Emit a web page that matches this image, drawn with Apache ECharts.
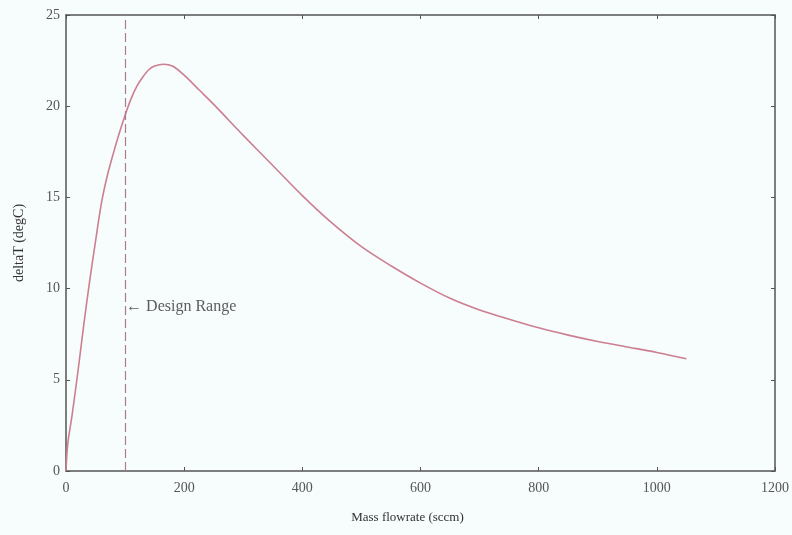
<!DOCTYPE html>
<html>
<head>
<meta charset="utf-8">
<script src="https://cdn.jsdelivr.net/npm/echarts@6/dist/echarts.min.js"></script>
<style>
  html, body { margin: 0; padding: 0; background: #f7fcfc; }
  #chart { width: 792px; height: 535px; }
</style>
</head>
<body>
<div id="chart"></div>
<script>
// Temperature rise versus mass flow rate
const flowSccm = [0, 3, 10, 20, 30, 40, 50, 60, 70, 80, 90, 100, 110, 120, 130, 140, 150, 165, 180, 200, 225, 250, 300, 350, 400, 450, 500, 550, 600, 650, 700, 750, 800, 850, 900, 950, 1000, 1050];
const deltaT   = [0, 1.5, 3.0, 5.4, 8.0, 10.4, 12.6, 14.7, 16.2, 17.4, 18.5, 19.5, 20.4, 21.1, 21.6, 22.0, 22.2, 22.3, 22.2, 21.7, 20.9, 20.1, 18.4, 16.75, 15.1, 13.6, 12.3, 11.25, 10.3, 9.47, 8.83, 8.32, 7.85, 7.45, 7.1, 6.8, 6.5, 6.15];
const designFlow = 100;
const designLabel = '\u2190 Design Range';
const designLabelY = 9;
const xTicks = { min: 0, max: 1200, interval: 200 };
const yTicks = { min: 0, max: 25, interval: 5 };

const serif = 'Liberation Serif';
const axisColor = '#555';

function axisBase(extra) {
  return Object.assign({
    type: 'value',
    axisLine: { show: true, onZero: false, lineStyle: { color: axisColor, width: 1.5 } },
    axisTick: { show: true, inside: true, length: 4, lineStyle: { color: axisColor } },
    splitLine: { show: false },
    axisLabel: { color: '#555', fontFamily: serif, fontSize: 14, formatter: v => String(v) }
  }, extra);
}

const chart = echarts.init(document.getElementById('chart'));
chart.setOption({
  backgroundColor: '#f7fcfc',
  animation: false,
  grid: { left: 66, right: 16, top: 15, bottom: 64 },
  xAxis: [
    axisBase(Object.assign({}, xTicks, {
      position: 'bottom',
      name: 'Mass flowrate (sccm)',
      nameLocation: 'middle',
      nameGap: 40,
      nameTextStyle: { color: '#333', fontFamily: serif, fontSize: 13, padding: [0, 26, 0, 0] },
      axisLabel: { color: '#555', fontFamily: serif, fontSize: 14, margin: 10, formatter: v => String(v) }
    })),
    axisBase(Object.assign({}, xTicks, { position: 'top', axisLabel: { show: false } }))
  ],
  yAxis: [
    axisBase(Object.assign({}, yTicks, {
      position: 'left',
      name: 'deltaT (degC)',
      nameLocation: 'middle',
      nameGap: 40,
      nameTextStyle: { color: '#333', fontFamily: serif, fontSize: 14 },
      axisLabel: { color: '#555', fontFamily: serif, fontSize: 14, margin: 6, formatter: v => String(v) }
    })),
    axisBase(Object.assign({}, yTicks, { position: 'right', axisLabel: { show: false } }))
  ],
  series: [
    {
      type: 'line',
      data: flowSccm.map((x, i) => [x, deltaT[i]]),
      showSymbol: false,
      smooth: 0.3,
      lineStyle: { color: '#cc7f90', width: 1.6 },
      markLine: {
        silent: true,
        symbol: 'none',
        label: { show: false },
        lineStyle: { color: '#a97d8b', type: [9, 4], width: 1.2 },
        data: [{ xAxis: designFlow }]
      },
      z: 3
    },
    {
      type: 'scatter',
      data: [[designFlow, designLabelY]],
      symbolSize: 0,
      label: {
        show: true,
        position: 'right',
        distance: 1,
        formatter: designLabel,
        color: '#333',
        fontFamily: serif,
        fontSize: 16
      }
    }
  ]
});
</script>
</body>
</html>
